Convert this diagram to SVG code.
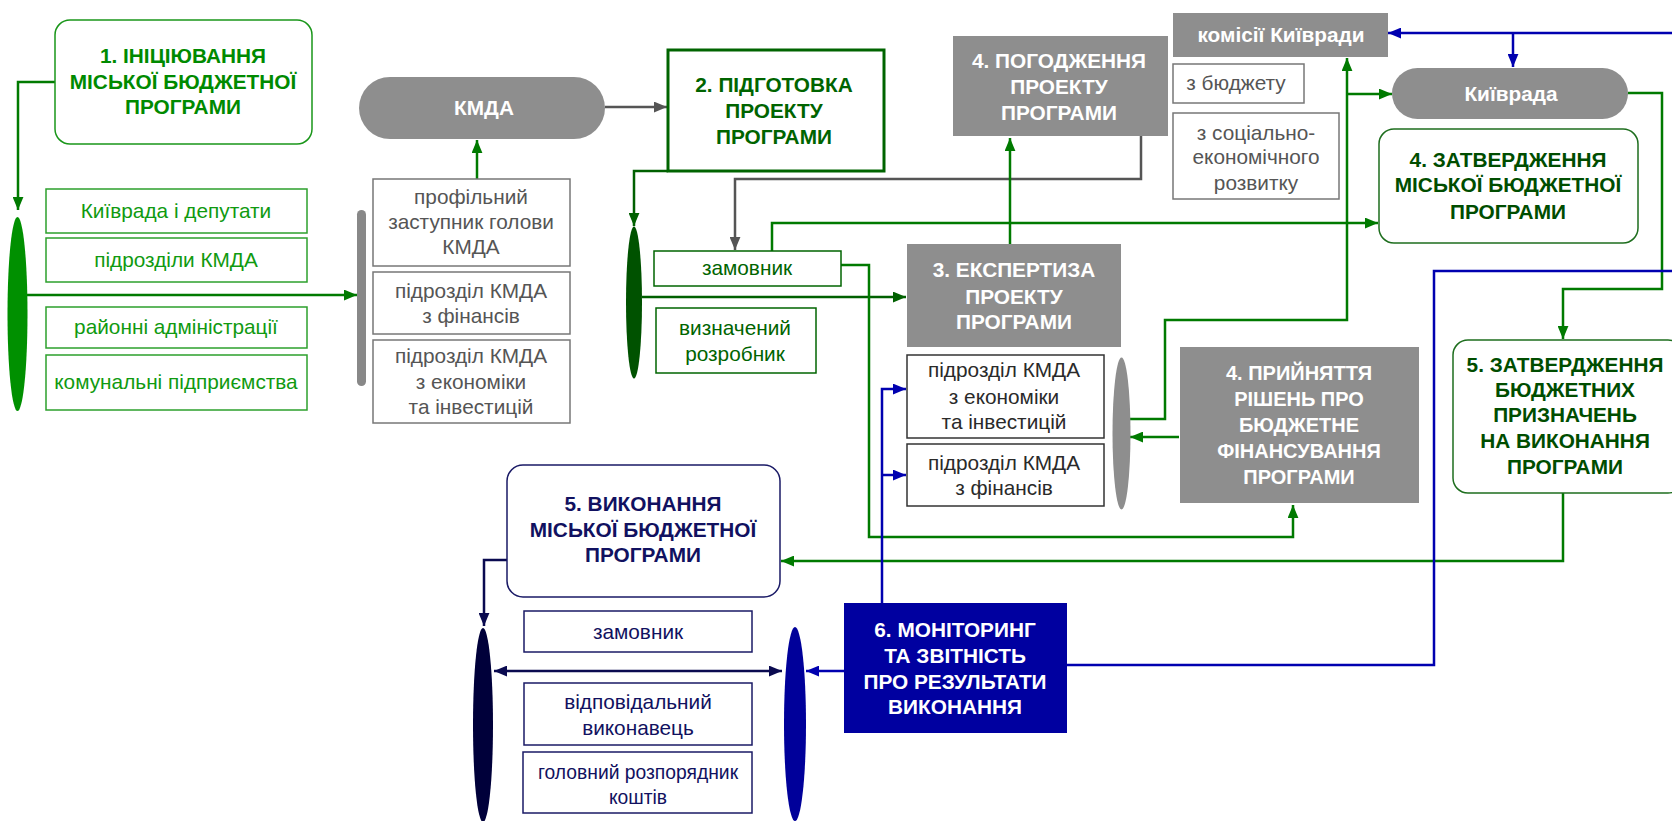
<svg xmlns="http://www.w3.org/2000/svg" width="1672" height="821" viewBox="0 0 1672 821">
<style>
text{font-family:"Liberation Sans",Arial,sans-serif;text-anchor:middle}
.b{font-weight:bold;font-size:20.8px}
.b20{font-size:20px}
.n{font-size:20.8px}
.w{fill:#fff}
.gl{fill:#008a00}
.dg{fill:#006400}
.dk{fill:#004d00}
.gr{fill:#555}
.bk{fill:#2a2a2a}
.nv{fill:#111160}
.c{fill:none;stroke-width:2.5}
</style>
<defs>
<marker id="aG" viewBox="0 0 12 10" refX="12" refY="5" markerWidth="13" markerHeight="11" markerUnits="userSpaceOnUse" orient="auto-start-reverse"><path d="M0,0L12,5L0,10z" fill="#007a00"/></marker>
<marker id="aD" viewBox="0 0 12 10" refX="12" refY="5" markerWidth="13" markerHeight="11" markerUnits="userSpaceOnUse" orient="auto-start-reverse"><path d="M0,0L12,5L0,10z" fill="#006000"/></marker>
<marker id="aS" viewBox="0 0 12 10" refX="12" refY="5" markerWidth="13" markerHeight="11" markerUnits="userSpaceOnUse" orient="auto-start-reverse"><path d="M0,0L12,5L0,10z" fill="#555"/></marker>
<marker id="aB" viewBox="0 0 12 10" refX="12" refY="5" markerWidth="13" markerHeight="11" markerUnits="userSpaceOnUse" orient="auto-start-reverse"><path d="M0,0L12,5L0,10z" fill="#0000b0"/></marker>
<marker id="aN" viewBox="0 0 12 10" refX="12" refY="5" markerWidth="13" markerHeight="11" markerUnits="userSpaceOnUse" orient="auto-start-reverse"><path d="M0,0L12,5L0,10z" fill="#0a0a50"/></marker>
</defs>
<rect width="1672" height="821" fill="#fff"/>

<g id="connectors">
<path class="c" stroke="#007a00" d="M55,82H18V210" marker-end="url(#aG)"/>
<path class="c" stroke="#007a00" d="M27,295H357" marker-end="url(#aG)"/>
<path class="c" stroke="#007a00" d="M477,179V140" marker-end="url(#aG)"/>
<path class="c" stroke="#555" d="M605,107H667" marker-end="url(#aS)"/>
<path class="c" stroke="#006000" d="M668,171H634V226" marker-end="url(#aD)"/>
<path class="c" stroke="#006000" d="M642,297H906" marker-end="url(#aD)"/>
<path class="c" stroke="#555" d="M1141,136V179H735V250" marker-end="url(#aS)"/>
<path class="c" stroke="#007a00" d="M772,251V223H1378" marker-end="url(#aG)"/>
<path class="c" stroke="#007a00" d="M1010,244V138" marker-end="url(#aG)"/>
<path class="c" stroke="#007a00" d="M841,265H869V537H1293V505" marker-end="url(#aG)"/>
<path class="c" stroke="#007a00" d="M1130,419H1165V320H1347V58" marker-end="url(#aG)"/>
<path class="c" stroke="#007a00" d="M1347,94H1392" marker-end="url(#aG)"/>
<path class="c" stroke="#007a00" d="M1179,437H1130" marker-end="url(#aG)"/>
<path class="c" stroke="#007a00" d="M1628,93H1662V289H1563V339" marker-end="url(#aG)"/>
<path class="c" stroke="#007a00" d="M1563,493V561H781" marker-end="url(#aG)"/>
<path class="c" stroke="#0000b0" d="M1672,33H1388" marker-end="url(#aB)"/>
<path class="c" stroke="#0000b0" d="M1513,33V67" marker-end="url(#aB)"/>
<path class="c" stroke="#0000b0" d="M1067,665H1434V271H1672"/>
<path class="c" stroke="#0000b0" d="M882,603V389H906" marker-end="url(#aB)"/>
<path class="c" stroke="#0000b0" d="M882,475H906" marker-end="url(#aB)"/>
<path class="c" stroke="#0000b0" d="M844,671H806" marker-end="url(#aB)"/>
<path class="c" stroke="#0a0a50" d="M507,560H484V626" marker-end="url(#aN)"/>
<path class="c" stroke="#0a0a50" d="M494,671H782" marker-start="url(#aN)" marker-end="url(#aN)"/>
</g>

<g id="n1">
<rect x="55" y="20" width="257" height="124" rx="15" fill="#fff" stroke="#1a961a" stroke-width="1.5"/>
<text class="b gl" x="183" y="63">1. ІНІЦІЮВАННЯ</text>
<text class="b gl" x="183" y="89">МІСЬКОЇ БЮДЖЕТНОЇ</text>
<text class="b gl" x="183" y="114">ПРОГРАМИ</text>
</g>
<g id="bar1"><ellipse cx="17.5" cy="314" rx="10" ry="97" fill="#009000"/></g>
<g id="init-list" fill="#fff" stroke="#2ca02c" stroke-width="1.5">
<rect x="46" y="189" width="261" height="44"/>
<rect x="46" y="238" width="261" height="44"/>
<rect x="46" y="307" width="261" height="41"/>
<rect x="46" y="355" width="261" height="55"/>
</g>
<g id="init-text" class="n" fill="#109a10">
<text x="176" y="218">Київрада і депутати</text>
<text x="176" y="267">підрозділи КМДА</text>
<text x="176" y="334">районні адміністрації</text>
<text x="176" y="389">комунальні підприємства</text>
</g>

<g id="bar2"><rect x="357" y="210" width="9" height="176" rx="4.5" fill="#888"/></g>
<g id="profile">
<rect x="373" y="179" width="197" height="87" fill="#fff" stroke="#777" stroke-width="1.5"/>
<rect x="373" y="272" width="197" height="62" fill="#fff" stroke="#777" stroke-width="1.5"/>
<rect x="373" y="340" width="197" height="83" fill="#fff" stroke="#777" stroke-width="1.5"/>
<text class="n gr" x="471" y="204">профільний</text>
<text class="n gr" x="471" y="229">заступник голови</text>
<text class="n gr" x="471" y="254">КМДА</text>
<text class="n gr" x="471" y="298">підрозділ КМДА</text>
<text class="n gr" x="471" y="323">з фінансів</text>
<text class="n gr" x="471" y="363">підрозділ КМДА</text>
<text class="n gr" x="471" y="389">з економіки</text>
<text class="n gr" x="471" y="414">та інвестицій</text>
</g>

<g id="kmda">
<rect x="359" y="77" width="246" height="62" rx="31" fill="#8e8e8e"/>
<text class="b w" x="484" y="115">КМДА</text>
</g>

<g id="n2">
<rect x="668" y="50" width="216" height="121" fill="#fff" stroke="#006400" stroke-width="3"/>
<text class="b dg" x="774" y="92">2. ПІДГОТОВКА</text>
<text class="b dg" x="774" y="118">ПРОЕКТУ</text>
<text class="b dg" x="774" y="144">ПРОГРАМИ</text>
</g>
<g id="bar3"><ellipse cx="634" cy="302.5" rx="8" ry="76" fill="#005200"/></g>
<g id="prep">
<rect x="654" y="251" width="187" height="35" fill="#fff" stroke="#006400" stroke-width="1.5"/>
<rect x="656" y="308" width="160" height="65" fill="#fff" stroke="#006400" stroke-width="1.5"/>
<text class="n dg" x="747" y="275">замовник</text>
<text class="n dg" x="735" y="335">визначений</text>
<text class="n dg" x="735" y="361">розробник</text>
</g>

<g id="n3">
<rect x="907" y="244" width="214" height="103" fill="#8e8e8e"/>
<text class="b w" x="1014" y="277">3. ЕКСПЕРТИЗА</text>
<text class="b w" x="1014" y="304">ПРОЕКТУ</text>
<text class="b w" x="1014" y="329">ПРОГРАМИ</text>
</g>
<g id="expert">
<rect x="907" y="355" width="197" height="83" fill="#fff" stroke="#333" stroke-width="1.5"/>
<rect x="907" y="444" width="197" height="62" fill="#fff" stroke="#333" stroke-width="1.5"/>
<text class="n bk" x="1004" y="377">підрозділ КМДА</text>
<text class="n bk" x="1004" y="404">з економіки</text>
<text class="n bk" x="1004" y="429">та інвестицій</text>
<text class="n bk" x="1004" y="470">підрозділ КМДА</text>
<text class="n bk" x="1004" y="495">з фінансів</text>
</g>
<g id="bar4"><ellipse cx="1121.5" cy="433.5" rx="9" ry="76" fill="#8e8e8e"/></g>

<g id="n4a">
<rect x="953" y="36" width="215" height="100" fill="#8e8e8e"/>
<text class="b w" x="1059" y="68">4. ПОГОДЖЕННЯ</text>
<text class="b w" x="1059" y="94">ПРОЕКТУ</text>
<text class="b w" x="1059" y="120">ПРОГРАМИ</text>
</g>
<g id="komisii">
<rect x="1173" y="13" width="215" height="44" fill="#8e8e8e"/>
<text class="b w" x="1281" y="42">комісії Київради</text>
<rect x="1173" y="64" width="131" height="39" fill="#fff" stroke="#777" stroke-width="1.5"/>
<text class="n gr" x="1236" y="90">з бюджету</text>
<rect x="1173" y="113" width="166" height="86" fill="#fff" stroke="#777" stroke-width="1.5"/>
<text class="n gr" x="1256" y="140">з соціально-</text>
<text class="n gr" x="1256" y="164">економічного</text>
<text class="n gr" x="1256" y="190">розвитку</text>
</g>
<g id="kyivrada">
<rect x="1392" y="68" width="236" height="51" rx="25.5" fill="#8e8e8e"/>
<text class="b w" x="1511" y="101">Київрада</text>
</g>
<g id="n4b">
<rect x="1379" y="129" width="259" height="114" rx="15" fill="#fff" stroke="#1e6e1e" stroke-width="1.5"/>
<text class="b dk" x="1508" y="167">4. ЗАТВЕРДЖЕННЯ</text>
<text class="b dk" x="1508" y="192">МІСЬКОЇ БЮДЖЕТНОЇ</text>
<text class="b dk" x="1508" y="219">ПРОГРАМИ</text>
</g>
<g id="n4c">
<rect x="1180" y="347" width="239" height="156" fill="#8e8e8e"/>
<text class="b b20 w" x="1299" y="380">4. ПРИЙНЯТТЯ</text>
<text class="b b20 w" x="1299" y="406">РІШЕНЬ ПРО</text>
<text class="b b20 w" x="1299" y="432">БЮДЖЕТНЕ</text>
<text class="b b20 w" x="1299" y="458">ФІНАНСУВАННЯ</text>
<text class="b b20 w" x="1299" y="484">ПРОГРАМИ</text>
</g>
<g id="n5a">
<rect x="1453" y="340" width="230" height="153" rx="15" fill="#fff" stroke="#1e6e1e" stroke-width="1.5"/>
<text class="b dk" x="1565" y="372">5. ЗАТВЕРДЖЕННЯ</text>
<text class="b dk" x="1565" y="397">БЮДЖЕТНИХ</text>
<text class="b dk" x="1565" y="422">ПРИЗНАЧЕНЬ</text>
<text class="b dk" x="1565" y="448">НА ВИКОНАННЯ</text>
<text class="b dk" x="1565" y="474">ПРОГРАМИ</text>
</g>

<g id="n5b">
<rect x="507" y="465" width="273" height="132" rx="16" fill="#fff" stroke="#1a1a66" stroke-width="1.5"/>
<text class="b nv" x="643" y="511">5. ВИКОНАННЯ</text>
<text class="b nv" x="643" y="537">МІСЬКОЇ БЮДЖЕТНОЇ</text>
<text class="b nv" x="643" y="562">ПРОГРАМИ</text>
</g>
<g id="bar5"><ellipse cx="483" cy="725" rx="10" ry="97" fill="#00003a"/></g>
<g id="exec">
<rect x="524" y="611" width="228" height="41" fill="#fff" stroke="#1a1a66" stroke-width="1.5"/>
<rect x="524" y="683" width="228" height="62" fill="#fff" stroke="#1a1a66" stroke-width="1.5"/>
<rect x="523" y="752" width="229" height="61" fill="#fff" stroke="#1a1a66" stroke-width="1.5"/>
<text class="n nv" x="638" y="639">замовник</text>
<text class="n nv" x="638" y="709">відповідальний</text>
<text class="n nv" x="638" y="735">виконавець</text>
<text class="nv" font-size="19.3" x="638" y="779">головний розпорядник</text>
<text class="nv" font-size="19.3" x="638" y="804">коштів</text>
</g>
<g id="bar6"><ellipse cx="795" cy="724" rx="11" ry="97" fill="#00009a"/></g>
<g id="n6">
<rect x="844" y="603" width="223" height="130" fill="#0000a0"/>
<text class="b w" x="955" y="637">6. МОНІТОРИНГ</text>
<text class="b w" x="955" y="663">ТА ЗВІТНІСТЬ</text>
<text class="b w" x="955" y="689">ПРО РЕЗУЛЬТАТИ</text>
<text class="b w" x="955" y="714">ВИКОНАННЯ</text>
</g>
</svg>
